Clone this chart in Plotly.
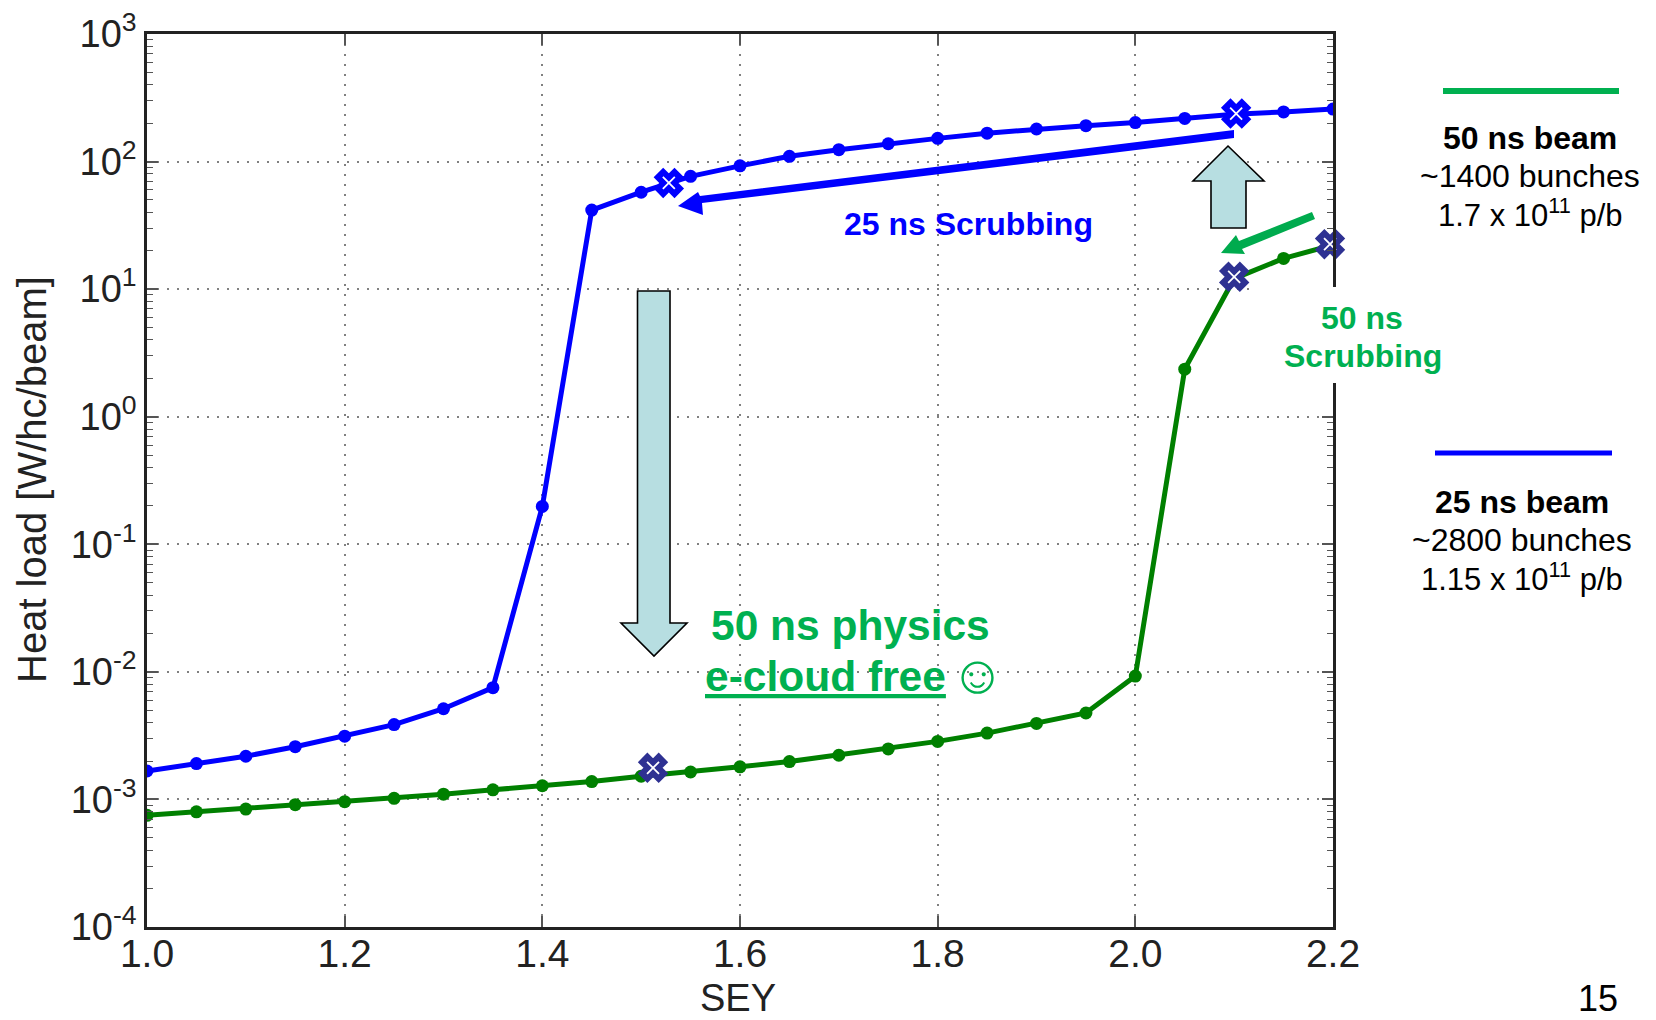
import plotly.graph_objects as go

W, H = 1656, 1020
L, R, T, B = 147, 1333, 34, 927

sey = [1.0, 1.05, 1.1, 1.15, 1.2, 1.25, 1.3, 1.35, 1.4, 1.45, 1.5, 1.55, 1.6,
       1.65, 1.7, 1.75, 1.8, 1.85, 1.9, 1.95, 2.0, 2.05, 2.1, 2.15, 2.2]
beam_25ns = [0.00167, 0.00191, 0.00218, 0.00259, 0.00313, 0.00386, 0.00514, 0.00752,
             0.198, 41.7, 57.5, 76.6, 92.6, 110, 124, 138, 152, 167, 180, 191, 202,
             218, 235, 245, 258]
beam_50ns = [0.00075, 0.0008, 0.00084, 0.00091, 0.00096, 0.00102, 0.0011, 0.00119,
             0.00128, 0.00138, 0.00152, 0.00164, 0.0018, 0.00198, 0.00222, 0.00249,
             0.00285, 0.00331, 0.00394, 0.00476, 0.00927, 2.36, 12.1, 17.4, 22.2]
marks_25_x = [1.528, 2.102]
marks_25_y = [68, 238]
marks_50_x = [1.512, 2.1, 2.197]
marks_50_y = [0.00177, 12.5, 22.5]
x_ticks = [1.0, 1.2, 1.4, 1.6, 1.8, 2.0, 2.2]
x_labels = ["1.0", "1.2", "1.4", "1.6", "1.8", "2.0", "2.2"]
y_ticks = [1e-4, 1e-3, 1e-2, 1e-1, 1, 10, 100, 1000]
y_labels = ["10<sup>-4</sup>", "10<sup>-3</sup>", "10<sup>-2</sup>", "10<sup>-1</sup>",
            "10<sup>0</sup>", "10<sup>1</sup>", "10<sup>2</sup>", "10<sup>3</sup>"]

BLUE, GREEN, NAVY, TXT_GREEN = "#0000FF", "#008000", "#2E3192", "#00B050"
FONT = "Liberation Sans"
TICK = "#222222"

fig = go.Figure()
for ys, c in ((beam_25ns, BLUE), (beam_50ns, GREEN)):
    fig.add_trace(go.Scatter(x=sey, y=ys, mode="lines+markers",
                             line=dict(color=c, width=5), marker=dict(color=c, size=13)))
for xs, ys, c in ((marks_25_x, marks_25_y, BLUE), (marks_50_x, marks_50_y, NAVY)):
    fig.add_trace(go.Scatter(x=xs, y=ys, mode="markers", cliponaxis=False,
                             marker=dict(symbol="x", size=20, color=c, line=dict(color=c, width=5.5))))
    fig.add_trace(go.Scatter(x=xs, y=ys, mode="markers", cliponaxis=False,
                             marker=dict(symbol="x-thin", size=12, line=dict(color="white", width=1.8))))


def px(x):
    return (x - L) / (R - L)


def py(y):
    return (B - y) / (B - T)


def poly(points, fill, line_color, width):
    path = "M " + " L ".join(f"{px(a):.5f},{py(b):.5f}" for a, b in points) + " Z"
    fig.add_shape(type="path", path=path, xref="paper", yref="paper", layer="above",
                  fillcolor=fill, line=dict(color=line_color, width=width))


def seg(x0, y0, x1, y1, color, width):
    fig.add_shape(type="line", x0=px(x0), y0=py(y0), x1=px(x1), y1=py(y1),
                  xref="paper", yref="paper", layer="above", line=dict(color=color, width=width))


def text(x, y, s, size, color="black", angle=0, **kw):
    fig.add_annotation(x=px(x), y=py(y), xref="paper", yref="paper", text=s, showarrow=False,
                       xanchor="center", yanchor="middle", textangle=angle,
                       font=dict(family=FONT, size=size, color=color), **kw)


# white panel behind the "50 ns Scrubbing" label
fig.add_shape(type="rect", x0=px(1256), x1=px(1450), y0=py(287), y1=py(383), xref="paper",
              yref="paper", layer="above", fillcolor="white", line=dict(width=0))

# block arrows
CYAN = "#B7DEE1"
poly([(1228, 146), (1264, 181), (1246, 181), (1246, 228), (1211, 228), (1211, 181), (1193, 181)],
     CYAN, "black", 1.6)
poly([(637.5, 291), (670, 291), (670, 623), (687, 623), (654, 656), (621, 623), (637.5, 623)],
     CYAN, "black", 1.6)
# scrubbing arrows
poly([(1234, 130), (1234, 138), (702, 203), (703, 215), (678, 206), (698, 192), (700, 196)],
     BLUE, BLUE, 0)
poly([(1312, 212), (1315, 219), (1242, 249), (1245, 254), (1221, 253), (1236, 235), (1239, 241)],
     "#00AB4E", "#00AB4E", 0)
# legend strokes
seg(1443, 91, 1619, 91, TXT_GREEN, 6)
seg(1435, 453, 1612, 453, BLUE, 5)

text(968, 224, "<b>25 ns Scrubbing</b>", 32, BLUE)
text(1362, 318, "<b>50 ns</b>", 32, TXT_GREEN)
text(1363, 356, "<b>Scrubbing</b>", 32, TXT_GREEN)
text(850, 625, "<b>50 ns physics</b>", 42.5, TXT_GREEN)
text(825, 676, "<b><u>e-cloud free</u></b>", 42.5, TXT_GREEN)
text(977, 674, "☺", 54, TXT_GREEN)
text(1530, 138, "<b>50 ns beam</b>", 32)
text(1530, 176, "~1400 bunches", 32)
text(1530, 213, "1.7 x 10<sup>11</sup> p/b", 31)
text(1522, 502, "<b>25 ns beam</b>", 32)
text(1522, 540, "~2800 bunches", 32)
text(1522, 577, "1.15 x 10<sup>11</sup> p/b", 31)
text(1598, 998, "15", 36)
text(738, 998, "SEY", 38, TICK)
text(32, 480, "Heat load [W/hc/beam]", 40, TICK, angle=-90)

fig.update_layout(
    width=W, height=H, showlegend=False, paper_bgcolor="white", plot_bgcolor="white",
    margin=dict(l=L, r=W - R, t=T, b=H - B, pad=0),
    font=dict(family=FONT, color=TICK),
    xaxis=dict(range=[1.0, 2.2], tickmode="array", tickvals=x_ticks, ticktext=x_labels,
               tickfont=dict(size=39, color=TICK), ticks="inside", ticklen=11, tickwidth=1.5,
               ticklabelstandoff=-10, automargin=False,
               tickcolor="#555555", showline=True, linecolor="#222222", linewidth=2.5,
               mirror="allticks", showgrid=True, gridcolor="#808080", gridwidth=2,
               griddash="2px,8px", zeroline=False),
    yaxis=dict(type="log", range=[-4, 3], tickmode="array", tickvals=y_ticks, ticktext=y_labels,
               tickfont=dict(size=38, color=TICK), ticks="inside", ticklen=11, tickwidth=1.5,
               automargin=False,
               tickcolor="#555555", showline=True, linecolor="#222222", linewidth=2.5,
               mirror="allticks", showgrid=True, gridcolor="#808080", gridwidth=2,
               griddash="2px,8px", zeroline=False,
               minor=dict(ticks="inside", ticklen=6, tickwidth=1.2, tickcolor="#555555",
                          dtick="D1", showgrid=False)),
)

fig.write_html("out.html", config=dict(displayModeBar=False),
               post_script="document.body.style.margin='0';document.documentElement.style.overflow='hidden';")
